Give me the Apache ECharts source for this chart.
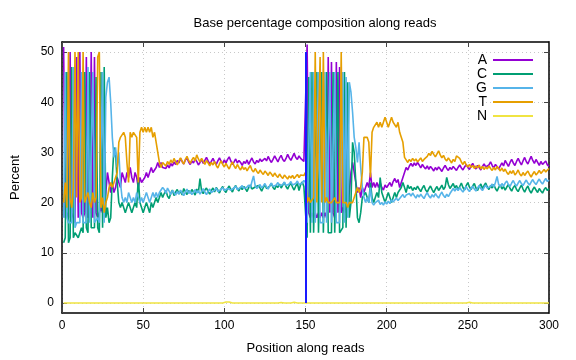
<!DOCTYPE html>
<html>
<head>
<meta charset="utf-8">
<script src="https://cdn.jsdelivr.net/npm/echarts@6/dist/echarts.min.js"></script>
<style>html,body{margin:0;padding:0;background:#fff;}#c{width:576px;height:360px;}</style>
</head>
<body>
<div id="c"></div>
<script>
const titleText = 'Base percentage composition along reads';
const xName = 'Position along reads';
const yName = 'Percent';
const seriesNames = ['A', 'C', 'G', 'T', 'N'];
const seriesColors = ['#9400d3', '#009e73', '#56b4e9', '#e69f00', '#f0e442'];
const xTicks = [0, 50, 100, 150, 200, 250, 300];
const yTicks = [0, 10, 20, 30, 40, 50];

const A = [
51,17,18,17,50,18,17,16,49,17,
50,18,17,18,49,17,18,50,17,49,
18,17,17,19,18,19,22,26,26,22,
24,22,23,25,24,23,26,25,24,26,
25,27,25,24,26,25,23,25,24,24,
25,26,25,26,27,26,26,27,28,27,
28,27,27.2,26.8,27.5,26.9,27.8,27.3,28.1,27.6,
28.4,27.9,28.8,28.2,27.7,28.5,28.9,28.1,27.6,28.3,
27.9,28.7,28.2,27.5,28.0,28.6,27.8,28.4,29.0,28.3,
27.7,28.2,28.8,28.1,27.6,28.3,28.9,28.2,27.8,28.5,
27.9,28.6,29.1,28.3,27.6,28.1,28.7,27.9,28.4,28.0,
27.4,28.2,27.8,28.5,27.6,28.3,28.9,28.1,27.7,28.4,
28.0,28.7,28.2,27.9,28.8,28.3,29.2,28.5,28.0,28.6,
29.3,28.7,28.1,28.9,29.4,28.6,28.2,28.8,29.6,28.9,
28.4,29.1,29.8,29.0,28.6,29.3,28.8,28.5,28.2,27.9,
51.5,18,17,18,17,18,17,18,17,18,
17,18,17,49,18,48,18,17,48,18,
47,18,19,18,19,20,22,26,28,26,
24,22,23,21,23,22,23,24,23,26,
23,24,23,24,23,24,23,22.5,23.5,23,
23.5,24,23.2,24.2,24.8,24,24.6,23,24,25,
26,27,26.5,27.3,27.8,27.2,27.9,27.4,28.0,27.5,
26.9,27.6,27.1,26.7,27.3,26.6,27.2,26.8,26.3,27.0,
26.5,27.1,26.7,26.2,26.9,27.4,26.8,26.4,27.0,26.6,
27.2,26.8,26.4,27.0,27.5,26.9,26.5,27.1,27.6,27.0,
26.6,27.3,27.8,27.1,26.7,27.4,27.0,26.5,27.2,27.7,
27.1,26.8,27.5,28.1,27.4,26.9,27.6,27.2,26.7,27.3,
27.9,27.3,28.4,27.8,27.2,28.0,28.6,27.9,27.4,28.2,
28.8,28.1,27.5,28.3,29.0,28.2,27.7,28.5,29.2,28.4,
27.8,28.6,28.0,27.4,28.2,27.6,27.9,28.3,27.5,27.2
];

const C = [
12,13,46,12,13,47,13,14,14,13,
14,15,14,46,15,14,46,15,15,15,
45,15,14,46,15,47,17,19,16,17,
25,31,30,24,20,19,20,19,18,19,
20,19,18,19,20,19,25,20,19,18,
19,20,19,18,20,19,20,21,20,21,
22,21,21.8,22.4,21.3,20.8,21.9,22.5,21.4,22.1,
22.6,21.7,22.3,21.5,22.8,22.2,21.6,22.4,21.9,22.6,
22.1,21.5,22.7,22.0,24.8,22.3,21.8,22.5,22.9,22.2,
21.7,22.4,22.9,22.1,23.0,22.5,21.9,22.7,23.2,22.4,
22.0,22.8,23.3,22.6,22.1,22.9,23.4,22.7,22.3,23.1,
22.6,23.2,22.8,22.2,23.0,23.5,22.7,22.4,23.1,22.8,
23.4,22.9,22.3,23.0,23.6,22.8,22.5,23.3,23.8,23.0,
22.6,23.4,23.0,23.7,22.9,23.5,24.0,23.2,22.7,23.4,
23.9,23.1,22.5,23.3,23.8,22.4,23.6,24.1,23.2,23.0,
13,45,14,46,14,14,46,14,14,46,
14,14,46,14,14,14,46,14,14,46,
14,14,15,46,15,44,17,20,32,30,
24,17,16,18,21,21,22,21,20,24,
21,20,21,22,21,25,22,21,20,21,
22,21,20,21,22,21,22,22,23,24,
23,22,23.5,22.8,23.2,22.4,23.0,22.6,23.3,22.7,
22.2,22.9,23.4,22.5,22.1,22.8,23.3,22.6,22.0,22.7,
23.2,22.4,22.9,23.5,22.6,23.1,25.0,23.6,22.8,23.3,
23.8,22.9,23.4,22.6,23.2,23.9,23.0,22.5,23.4,24.0,
23.1,22.6,23.3,23.8,22.9,22.4,23.2,23.7,22.8,23.4,
23.9,23.1,22.6,23.4,22.9,23.6,22.8,22.3,23.0,23.5,
22.7,23.2,22.5,23.1,23.6,22.8,22.3,23.0,23.4,22.6,
22.2,22.9,23.5,22.7,22.1,22.8,23.3,22.4,21.9,22.6,
23.1,22.5,22.0,22.8,22.3,21.9,22.6,23.0,22.4,22.8
];

const G = [
17,46,17,16,16,16,47,15,16,16,
16,46,16,16,16,47,16,16,46,16,
16,17,16,16,46,16,41,44,45,40,
33,29,31,27,30,24,21,20,21,20,
22,21,20,21,20,22,21,20,21,20,
21,22,21,20,21,22,21,22,21,22,
22,23,22.6,21.8,22.9,22.3,21.6,22.4,22.0,21.5,
22.2,21.7,22.5,21.9,21.4,22.1,22.7,21.8,22.3,21.6,
22.0,22.6,21.9,22.4,21.7,22.2,22.8,22.1,21.6,22.3,
22.7,22.0,21.8,22.5,22.9,22.2,21.9,22.6,23.0,22.4,
22.1,22.8,23.1,22.5,22.2,22.9,23.3,22.6,22.3,23.0,
23.4,22.8,22.5,23.1,23.5,22.9,24.2,25.3,23.4,22.8,
23.2,23.6,22.9,23.3,23.8,23.1,22.7,23.4,23.9,23.2,
22.9,23.5,24.0,23.3,23.0,23.6,24.1,23.4,23.1,23.7,
24.2,23.5,23.2,23.8,24.3,23.6,23.4,23.9,24.4,24.0,
16,16,46,16,46,16,16,46,16,16,
16,46,16,16,46,16,16,46,16,16,
16,16,46,16,45,17,44,42,38,33,
31,28,32,27,23,21,20,21,20,23,
20,19.5,20,19.8,20.5,19.6,20,19.5,20.2,19.7,
20.3,19.8,20.6,20.1,20.5,20.9,20.4,20.8,21.2,21.6,
21.0,21.5,21.2,21.8,21.3,21.9,21.4,20.9,21.6,21.1,
21.7,21.2,20.8,21.5,22.0,21.3,20.9,21.6,21.1,21.8,
21.3,20.9,21.6,22.1,21.4,21.0,21.7,21.2,21.8,22.3,
22.8,22.3,22.9,22.4,23.0,22.5,22.1,22.7,23.2,22.6,
22.2,22.8,23.3,22.7,22.3,22.9,23.4,22.8,22.4,23.0,
23.5,22.9,22.6,23.2,23.7,23.1,24.0,25.2,23.6,23.2,
23.8,23.3,23.9,24.3,23.6,23.2,23.9,24.4,23.7,23.3,
23.9,24.4,23.8,23.4,24.0,24.5,23.9,23.5,24.1,24.6,
24.0,23.6,24.2,24.7,24.1,23.7,24.3,24.8,24.2,24.5
];

const T = [
20,24,19,50,21,19,23,50,21,50,
20,21,50,20,20,22,20,19,22,20,
21,49,50,19,21,18,20,21,23,24,
23,24,25,26,32,33,33,34,33,28,
24,34,33,34,34,33,24,34,35,34,
35,34,35,34,35,33,34,32,30,28,
27,28,27.8,27.3,28.2,27.6,28.5,27.9,28.8,28.1,
27.5,28.3,28.9,28.2,27.7,28.6,29.2,28.4,27.8,28.5,
29.0,28.3,29.5,28.7,28.1,28.8,28.2,27.6,28.4,27.9,
27.3,28.0,27.5,28.2,27.4,26.9,27.7,28.3,27.6,27.1,
27.8,27.2,26.7,27.5,28.1,27.3,26.8,27.6,27.0,26.5,
27.2,26.6,27.0,26.3,26.9,27.4,26.5,26.1,26.8,26.2,
25.8,26.5,26.0,25.6,26.3,25.9,25.4,26.1,25.7,25.2,
25.9,25.4,25.0,25.7,25.2,24.8,25.5,25.1,24.7,25.3,
24.9,25.4,24.8,25.2,25.6,25.0,25.5,25.8,25.4,26.0,
20,21,20,20,21,50,20,20,49,20,
50,20,21,20,20,20,20,21,20,20,
20,50,20,20,20,19,20,20,20,21,
22,23,22,23,26,33,33,33,32,25,
34,35,35,36,35,36,35,36,37,36,
35,36,37,36,36,35,36,34,33,32,
29,28.5,28.0,28.6,28.2,28.8,28.3,28.7,28.1,28.5,
28.9,28.2,28.6,28.4,29.2,29.8,29.4,30.2,29.6,29.1,
29.7,30.3,29.5,28.9,29.4,28.7,28.3,28.9,28.4,27.9,
28.6,28.2,29.3,29.6,28.8,28.1,27.6,28.2,27.5,27.1,
27.6,27.0,27.4,26.8,27.3,26.9,27.5,26.7,27.2,26.6,
27.1,26.7,27.3,26.8,26.4,27.0,26.5,27.2,26.8,26.3,
26.9,26.2,26.7,26.0,25.6,26.3,25.8,26.4,25.5,25.9,
26.5,25.7,25.3,26.0,25.4,25.9,26.3,25.6,25.1,25.7,
26.2,25.5,25.9,26.4,25.8,26.2,26.6,26.1,26.5,26.8
];

const N = [
0,0,0,0,0,0,0,0,0,0,
0,0,0,0,0,0,0,0,0,0,
0,0,0,0,0,0,0,0,0,0,
0,0,0,0,0,0,0,0,0,0,
0,0,0,0,0,0,0,0,0,0,
0,0,0,0,0,0,0,0,0,0,
0,0,0,0,0,0,0,0,0,0,
0,0,0,0,0,0,0,0,0,0,
0,0,0,0,0,0,0,0,0,0,
0,0,0,0,0,0,0,0,0,0,
0.2,0.35,0.2,0,0,0,0,0,0,0,
0,0,0,0,0,0,0,0,0,0,
0,0,0,0,0,0,0,0,0,0,
0,0,0,0.25,0.1,0,0,0,0,0,
0,0,0.15,0,0,0,0,0,0,0,
0,0,0,0,0,0,0,0,0,0,
0,0,0,0,0,0,0,0,0,0,
0,0,0,0,0,0,0,0,0,0,
0,0,0,0,0,0,0,0,0,0,
0,0,0,0,0,0,0,0,0,0,
0,0,0,0,0,0,0,0,0,0,
0,0,0,0,0,0,0,0,0,0,
0,0,0,0,0,0,0,0,0,0,
0,0,0,0,0,0,0,0,0,0,
0,0,0,0,0,0,0,0,0,0,
0.15,0.3,0,0,0,0,0,0,0,0,
0,0,0,0,0,0,0,0,0,0,
0,0,0,0,0,0,0,0,0,0,
0,0,0,0,0,0,0,0,0,0,
0,0,0,0,0,0,0,0,0,0
];

const boundaryPos = 150;
const boundaryRange = [0, 50];

const allData = [A, C, G, T, N];
const font = 'Liberation Sans, Arial, sans-serif';

const chart = echarts.init(document.getElementById('c'), null, {renderer: 'canvas'});

const series = allData.map((arr, k) => ({
  name: seriesNames[k],
  type: 'line',
  showSymbol: false,
  symbol: 'none',
  data: arr.map((v, i) => [i + 1, v]),
  lineStyle: {color: seriesColors[k], width: 1.6},
  itemStyle: {color: seriesColors[k]},
  emphasis: {disabled: true},
  z: 2 + k
}));
series[4].markLine = {
  silent: true,
  symbol: 'none',
  label: {show: false},
  lineStyle: {color: '#1a1aff', width: 2, type: 'solid'},
  data: [[{coord: [boundaryPos, boundaryRange[0]]}, {coord: [boundaryPos, boundaryRange[1]]}]],
  z: 10
};

const tickColor = '#444';
const option = {
  animation: false,
  backgroundColor: '#fff',
  title: {
    text: titleText,
    left: 310, textAlign: 'center', top: 12,
    textStyle: {fontFamily: font, fontSize: 13, fontWeight: 'normal', color: '#000'}
  },
  legend: {
    orient: 'vertical',
    right: 38, top: 48,
    align: 'right',
    itemWidth: 40, itemHeight: 2,
    itemGap: 0,
    icon: 'rect',
    data: seriesNames,
    textStyle: {fontFamily: font, fontSize: 14, color: '#000', lineHeight: 14, padding: [0, 1, 0, 0]}
  },
  grid: {left: 62, right: 27, top: 42, bottom: 45, show: false},
  xAxis: [{
    type: 'value', min: 0, max: 300, interval: 50,
    name: xName, nameLocation: 'middle', nameGap: 29,
    nameTextStyle: {fontFamily: font, fontSize: 13, color: '#000'},
    axisLine: {show: true, onZero: false, lineStyle: {color: '#000', width: 1.5}},
    axisTick: {show: true, inside: true, length: 5, lineStyle: {color: tickColor}},
    axisLabel: {fontFamily: font, fontSize: 12, color: '#000', margin: 7},
    splitLine: {show: true, lineStyle: {color: '#c8c8c8', type: [1, 3], width: 1}}
  }, {
    type: 'value', min: 0, max: 300, interval: 50, position: 'top',
    axisLine: {show: true, onZero: false, lineStyle: {color: '#000', width: 1.5}},
    axisTick: {show: true, inside: true, length: 5, lineStyle: {color: tickColor}},
    axisLabel: {show: false}, splitLine: {show: false}
  }],
  yAxis: [{
    type: 'value', min: -2, max: 52,
    name: yName, nameLocation: 'middle', nameGap: 40, nameRotate: 90,
    nameTextStyle: {fontFamily: font, fontSize: 13, color: '#000'},
    axisLine: {show: true, onZero: false, lineStyle: {color: '#000', width: 1.5}},
    axisTick: {show: true, inside: true, length: 5, customValues: yTicks, lineStyle: {color: tickColor}},
    axisLabel: {fontFamily: font, fontSize: 12, color: '#000', margin: 8, customValues: yTicks},
    splitLine: {show: true, lineStyle: {color: '#c8c8c8', type: [1, 3], width: 1}}
  }, {
    type: 'value', min: -2, max: 52, position: 'right',
    axisLine: {show: true, onZero: false, lineStyle: {color: '#000', width: 1.5}},
    axisTick: {show: true, inside: true, length: 5, customValues: yTicks, lineStyle: {color: tickColor}},
    axisLabel: {show: false, customValues: yTicks}, splitLine: {show: false}
  }],
  series: series
};
chart.setOption(option);
</script>
</body>
</html>
